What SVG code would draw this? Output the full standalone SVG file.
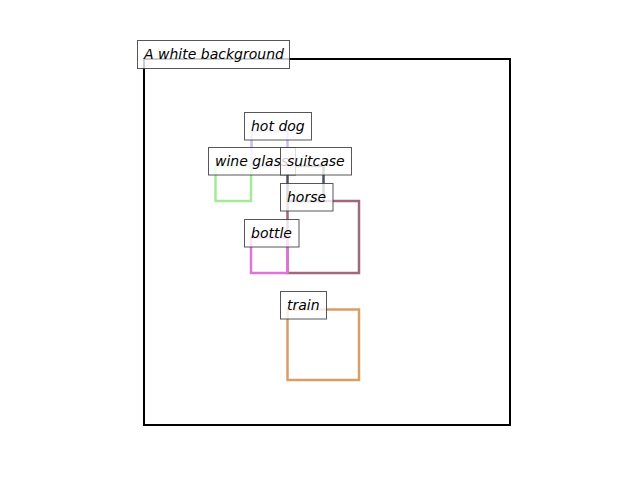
<svg xmlns="http://www.w3.org/2000/svg" width="640" height="480" viewBox="0 0 640 480">
<style>
.box{fill:none;stroke-width:2.5}
.lbl{fill:#ffffff;fill-opacity:0.8;stroke:#3a3a3a;stroke-opacity:0.85;stroke-width:1}
.txt{font-family:"DejaVu Sans",sans-serif;font-style:oblique;font-size:14px;fill:#000000}
</style>
<rect width="640" height="480" fill="#ffffff"/>
<g id="background">
<rect x="144" y="59" width="366" height="366" fill="none" stroke="#000000" stroke-width="2"/>
</g>
<g id="boxes">
<rect id="box-hotdog" class="box" x="251.5" y="131" width="36" height="35.5" stroke="#c9b9f1"/>
<rect id="box-wineglass" class="box" x="215.5" y="166" width="35.5" height="35" stroke="#a6e996"/>
<rect id="box-suitcase" class="box" x="287.5" y="166" width="36" height="35" stroke="#4c5262"/>
<rect id="box-horse" class="box" x="287.5" y="201" width="71.5" height="72" stroke="#a0687c"/>
<rect id="box-bottle" class="box" x="251" y="237.5" width="36.5" height="35.5" stroke="#e072d8"/>
<rect id="box-train" class="box" x="287.5" y="309.5" width="71.5" height="70.5" stroke="#d99d67"/>
</g>
<g id="label-background">
<rect class="lbl" x="137.5" y="40.5" width="152" height="28"/>
<text class="txt" x="144" y="59">A white background</text>
</g>
<g id="label-hotdog">
<rect class="lbl" x="244.5" y="112.5" width="67" height="27.5"/>
<text class="txt" x="251" y="131">hot dog</text>
</g>
<g id="label-wineglass">
<rect class="lbl" x="208.5" y="147.5" width="87" height="27.5"/>
<text class="txt" x="215" y="166">wine glass</text>
</g>
<g id="label-suitcase">
<rect class="lbl" x="280.5" y="147.5" width="71" height="27.5"/>
<text class="txt" x="287" y="166">suitcase</text>
</g>
<g id="label-horse">
<rect class="lbl" x="280.5" y="183.5" width="52.5" height="27.5"/>
<text class="txt" x="287" y="202">horse</text>
</g>
<g id="label-bottle">
<rect class="lbl" x="244.5" y="219.5" width="54.5" height="27.5"/>
<text class="txt" x="251" y="238">bottle</text>
</g>
<g id="label-train">
<rect class="lbl" x="280.5" y="291.5" width="46" height="27.5"/>
<text class="txt" x="287" y="310">train</text>
</g>
</svg>
